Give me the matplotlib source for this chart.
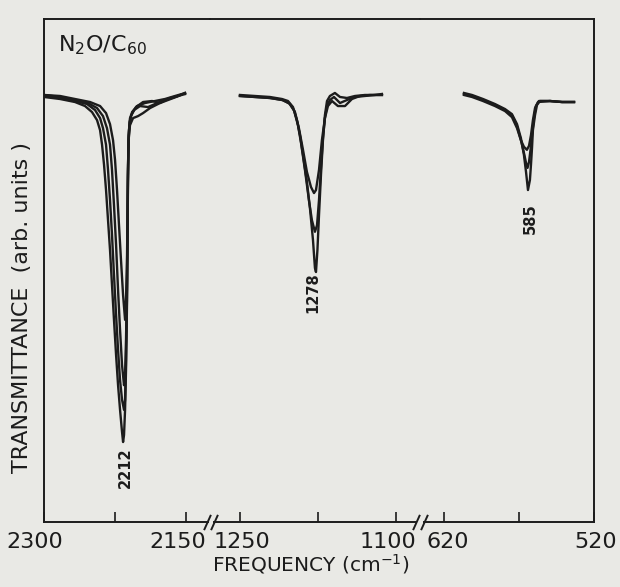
import numpy as np
import matplotlib
matplotlib.use('Agg')
import matplotlib.pyplot as plt
import matplotlib.transforms as mtransforms

# N2O on C60, IR transmittance, three frequency windows (cm-1)
# window 1 : 2300 - 2150 (band at 2212)
wn_a1 = [2300.0, 2283.1, 2267.3, 2256.7, 2249.3, 2244.0, 2240.8, 2238.7, 2236.6, 2234.5, 2232.4, 2230.3,
         2228.2, 2226.1, 2223.9, 2221.8, 2219.7, 2217.6, 2216.5, 2215.5, 2214.4, 2213.4, 2212.3, 2211.8,
         2211.3, 2210.7, 2209.7, 2207.0, 2201.8, 2193.3, 2182.8, 2172.2, 2161.6, 2154.2, 2151.1]
tr_a1 = [84.5, 84.1, 83.5, 82.7, 81.5, 79.9, 77.9, 75.0, 71.0, 66.0, 60.0, 54.1,
         47.1, 40.2, 33.2, 27.2, 22.3, 17.9, 15.9, 17.3, 22.3, 30.2, 44.1, 56.1,
         68.0, 75.9, 79.5, 81.5, 82.7, 83.3, 83.7, 84.1, 84.7, 85.1, 85.1]

wn_a2 = [2300.0, 2283.1, 2267.3, 2254.6, 2246.1, 2240.8, 2237.7, 2234.5, 2232.4, 2230.3, 2228.2, 2226.1,
         2223.9, 2221.8, 2219.7, 2217.6, 2215.5, 2214.4, 2213.4, 2212.3, 2211.8, 2211.3, 2210.7, 2209.2,
         2206.0, 2200.7, 2195.4, 2188.0, 2179.6, 2171.2, 2161.6, 2151.1]
tr_a2 = [84.7, 84.3, 83.7, 83.1, 81.9, 80.3, 78.3, 75.0, 70.0, 64.0, 57.1, 49.1,
         41.2, 34.2, 28.2, 24.3, 22.3, 24.3, 32.2, 46.1, 58.1, 69.0, 75.9, 78.9,
         80.3, 80.7, 81.3, 82.3, 83.1, 83.9, 84.5, 85.1]

wn_a3 = [2300.0, 2283.1, 2267.3, 2253.5, 2244.0, 2237.7, 2233.5, 2230.3, 2228.2, 2226.1, 2223.9, 2221.8,
         2219.7, 2217.6, 2215.5, 2214.4, 2213.4, 2212.3, 2211.8, 2211.3, 2210.7, 2209.2, 2204.9, 2198.6,
         2190.1, 2182.8, 2175.4, 2166.9, 2158.5, 2151.1]
tr_a3 = [84.9, 84.5, 83.9, 83.3, 82.3, 80.7, 78.3, 75.0, 70.0, 63.0, 55.1, 46.1,
         38.2, 31.2, 27.2, 29.2, 36.2, 48.1, 60.0, 70.0, 76.9, 80.3, 81.9, 82.7,
         82.5, 83.1, 83.7, 84.3, 84.7, 85.3]

wn_a4 = [2300.0, 2283.1, 2267.3, 2251.4, 2240.8, 2234.5, 2230.3, 2227.1, 2225.0, 2222.9, 2220.8, 2218.7,
         2216.5, 2214.4, 2213.4, 2212.3, 2211.8, 2211.3, 2210.2, 2208.1, 2202.8, 2195.4, 2185.9, 2177.5,
         2169.0, 2160.6, 2151.1]
tr_a4 = [84.9, 84.7, 84.1, 83.5, 82.7, 81.3, 79.1, 75.9, 72.0, 66.0, 59.0, 52.1,
         45.1, 40.2, 44.1, 53.1, 62.0, 71.0, 77.9, 80.9, 82.5, 83.5, 83.7, 83.3,
         83.9, 84.5, 85.3]

# window 2 : 1250 - 1100 (band labelled 1278)
wn_b1 = [1250.0, 1235.6, 1221.2, 1209.6, 1203.8, 1199.0, 1195.2, 1192.3, 1189.4, 1185.6, 1182.7, 1179.8,
         1177.9, 1176.9, 1175.5, 1174.0, 1172.1, 1170.2, 1168.3, 1166.3, 1163.5, 1158.7, 1153.8, 1147.1,
         1139.4, 1129.8, 1120.2, 1113.5]
tr_b1 = [84.9, 84.7, 84.5, 84.1, 83.7, 82.5, 79.9, 76.9, 73.0, 67.6, 62.4, 56.1,
         50.5, 49.7, 54.1, 61.0, 69.0, 75.9, 80.9, 83.7, 84.7, 85.3, 84.5, 84.3,
         84.7, 84.9, 84.9, 85.1]

wn_b2 = [1250.0, 1235.6, 1221.2, 1209.6, 1202.9, 1198.1, 1194.2, 1191.3, 1187.5, 1183.7, 1180.8, 1177.9,
         1175.9, 1174.0, 1172.1, 1170.2, 1168.3, 1166.3, 1163.5, 1159.6, 1153.8, 1147.1, 1139.4, 1129.8,
         1120.2, 1113.5]
tr_b2 = [84.7, 84.5, 84.3, 83.9, 83.3, 81.9, 78.9, 75.4, 70.0, 64.0, 60.0, 57.7,
         59.0, 64.0, 70.4, 76.3, 80.3, 82.7, 83.9, 84.5, 83.3, 83.9, 84.5, 84.7,
         84.9, 84.9]

wn_b3 = [1250.0, 1235.6, 1221.2, 1208.7, 1201.9, 1197.1, 1193.3, 1189.4, 1185.6, 1181.7, 1178.8, 1176.9,
         1174.0, 1171.2, 1168.3, 1165.4, 1161.5, 1155.8, 1149.0, 1142.3, 1134.6, 1125.0, 1113.5]
tr_b3 = [84.7, 84.5, 84.3, 83.9, 83.1, 81.5, 78.3, 74.0, 69.6, 66.6, 65.4, 66.0,
         70.0, 75.9, 80.3, 82.7, 83.7, 82.7, 82.7, 84.1, 84.7, 84.9, 84.9]

# window 3 : 620 - 520 (band at 585)
wn_c1 = [606.7, 601.3, 594.0, 586.0, 579.3, 574.7, 571.3, 568.7, 566.7, 565.3, 564.0, 562.7,
         562.0, 561.3, 560.7, 559.3, 558.0, 556.0, 549.3, 541.3, 533.3]
tr_c1 = [85.3, 84.9, 84.1, 83.1, 82.1, 81.1, 79.1, 76.3, 73.0, 69.6, 66.0, 68.0,
         71.0, 74.4, 77.9, 80.9, 82.9, 83.7, 83.7, 83.5, 83.5]

wn_c2 = [606.7, 601.3, 594.0, 586.0, 579.3, 574.7, 571.3, 568.7, 566.7, 565.3, 564.3, 563.3,
         562.3, 561.3, 560.0, 558.7, 556.7, 549.3, 541.3, 533.3]
tr_c2 = [85.1, 84.7, 83.9, 82.9, 81.9, 80.9, 78.7, 75.9, 73.4, 71.4, 70.4, 71.6,
         74.0, 76.9, 80.3, 82.7, 83.7, 83.7, 83.5, 83.5]

wn_c3 = [606.7, 601.3, 594.0, 586.0, 579.3, 574.7, 571.3, 568.7, 566.7, 564.7, 563.3, 562.0,
         560.7, 559.3, 557.3, 549.3, 541.3, 533.3]
tr_c3 = [84.9, 84.5, 83.7, 82.7, 81.7, 80.5, 78.3, 75.9, 74.6, 74.0, 74.8, 76.9,
         79.9, 82.3, 83.5, 83.7, 83.5, 83.5]

# axis windows and ticks
xlim_1 = (2300, 2124.7)
xlim_2 = (1278.8, 1076.9)
xlim_3 = (636, 520)
ticks_1 = [2300, 2225, 2150]
ticks_2 = [1250, 1175, 1100]
ticks_3 = [620, 570, 520]
labels_1 = ['2300', '', '2150']
labels_2 = ['1250', '', '1100']
labels_3 = ['620', '', '520']

paper = '#e9e9e5'
ink = '#1c1c1c'

fig = plt.figure(figsize=(6.2, 5.87), dpi=100)
fig.patch.set_facecolor(paper)

bottom, height = 0.1107, 0.8569
ax1 = fig.add_axes([0.0710, bottom, 0.2677, height])
ax2 = fig.add_axes([0.3387, bottom, 0.3387, height])
ax3 = fig.add_axes([0.6774, bottom, 0.2806, height])

for ax in (ax1, ax2, ax3):
    ax.set_facecolor('none')
    ax.set_ylim(0, 100)
    ax.set_yticks([])
    for s in ax.spines.values():
        s.set_linewidth(1.4)
        s.set_color(ink)
    ax.tick_params(axis='x', direction='in', length=7, width=1.2, pad=7,
                   labelsize=16, colors=ink)

ax1.spines['right'].set_visible(False)
ax2.spines['left'].set_visible(False)
ax2.spines['right'].set_visible(False)
ax3.spines['left'].set_visible(False)

ax1.set_xlim(*xlim_1)
ax2.set_xlim(*xlim_2)
ax3.set_xlim(*xlim_3)
ax1.set_xticks(ticks_1, labels_1)
ax2.set_xticks(ticks_2, labels_2)
ax3.set_xticks(ticks_3, labels_3)

# the hand-lettered labels sit a little off their ticks
shifts = {'2300': -9, '2150': -8, '1250': 2, '1100': -8, '620': 4, '520': 2}
for ax in (ax1, ax2, ax3):
    for lab in ax.get_xticklabels():
        dx = shifts.get(lab.get_text(), 0)
        lab.set_transform(lab.get_transform() +
                          mtransforms.ScaledTranslation(dx / 100, 0, fig.dpi_scale_trans))

# gaps in the bottom line at the breaks
ax1.spines['bottom'].set_bounds(2300, 2126.8)
ax2.spines['bottom'].set_bounds(1275.0, 1080.7)
ax3.spines['bottom'].set_bounds(633.3, 520)

lw = 1.7
for w, t in [(wn_a1, tr_a1), (wn_a2, tr_a2), (wn_a3, tr_a3), (wn_a4, tr_a4)]:
    ax1.plot(w, t, color=ink, lw=lw, solid_joinstyle='round')
for w, t in [(wn_b1, tr_b1), (wn_b2, tr_b2), (wn_b3, tr_b3)]:
    ax2.plot(w, t, color=ink, lw=lw, solid_joinstyle='round')
for w, t in [(wn_c1, tr_c1), (wn_c2, tr_c2), (wn_c3, tr_c3)]:
    ax3.plot(w, t, color=ink, lw=lw, solid_joinstyle='round')

# break marks  //
slash = dict(marker=[(-0.45, -1), (0.45, 1)], markersize=11, linestyle='none',
             color=ink, mec=ink, mew=1.4, clip_on=False)
ax1.plot([0.982], [0], transform=ax1.transAxes, **slash)
ax2.plot([0.019], [0], transform=ax2.transAxes, **slash)
ax2.plot([0.981], [0], transform=ax2.transAxes, **slash)
ax3.plot([0.023], [0], transform=ax3.transAxes, **slash)

# band labels
band = dict(rotation=90, ha='center', va='center', fontsize=10.5, color=ink, fontweight='bold')
ax1.text(2214.4, 10.9, '2212', **band)
ax2.text(1179.8, 45.7, '1278', **band)
ax3.text(562.7, 60.4, '585', **band)

ax1.text(0.084, 0.948, r'N$_2$O/C$_{60}$', transform=ax1.transAxes, ha='left', va='center',
         fontsize=16, color=ink)

fig.text(0.502, 0.018, r'FREQUENCY (cm$^{-1}$)', ha='center', va='bottom', fontsize=14.5, color=ink)
fig.text(0.036, 0.477, 'TRANSMITTANCE  (arb. units )', rotation=90, ha='center', va='center',
         fontsize=16, color=ink)

fig.savefig('out.png', dpi=100, facecolor=paper)
